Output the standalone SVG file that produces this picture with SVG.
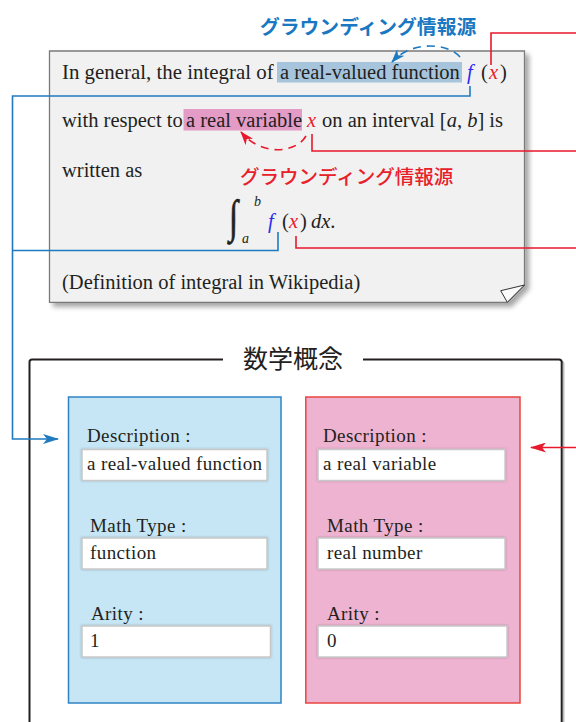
<svg xmlns="http://www.w3.org/2000/svg" width="576" height="722" viewBox="0 0 576 722">
<defs>
<style>
.para{font-family:"Liberation Serif","Times New Roman",serif;font-size:20.5px;fill:#231f20}
.it{font-style:italic}
.fb{fill:#2b2bf0}
.xr{fill:#e8202a}
.lab{font-family:"Liberation Serif","Times New Roman",serif;font-size:19px;letter-spacing:0.4px;fill:#231f20}
.inp{fill:#ffffff;stroke:#c8c8c8;stroke-width:1.5}
.cb{fill:none;stroke:#1f7bc0;stroke-width:1.6}
.cr{fill:none;stroke:#e8192c;stroke-width:1.6}
.jp{font-family:"Noto Sans CJK JP","Noto Sans",sans-serif}
</style>
<marker id="ab" viewBox="0 0 16 10" refX="15" refY="5" markerWidth="16" markerHeight="10" markerUnits="userSpaceOnUse" orient="auto">
<path d="M0,0 L16,5 L0,10 L4,5 Z" fill="#1f7bc0"/>
</marker>
<marker id="ar" viewBox="0 0 16 10" refX="15" refY="5" markerWidth="16" markerHeight="10" markerUnits="userSpaceOnUse" orient="auto">
<path d="M0,0 L16,5 L0,10 L4,5 Z" fill="#e8192c"/>
</marker>
<marker id="abs" viewBox="0 0 14 10" refX="13" refY="5" markerWidth="14" markerHeight="10" markerUnits="userSpaceOnUse" orient="auto">
<path d="M0,0 L14,5 L0,10 L4,5 Z" fill="#1f7bc0"/>
</marker>
<marker id="ars" viewBox="0 0 14 10" refX="13" refY="5" markerWidth="14" markerHeight="10" markerUnits="userSpaceOnUse" orient="auto">
<path d="M0,0 L14,5 L0,10 L4,5 Z" fill="#e8192c"/>
</marker>
<filter id="sh" x="-5%" y="-5%" width="115%" height="115%">
<feDropShadow dx="4" dy="4" stdDeviation="2.5" flood-color="#000" flood-opacity="0.35"/>
</filter>
<filter id="inner" x="-5%" y="-20%" width="110%" height="140%">
<feDropShadow dx="0" dy="0" stdDeviation="1" flood-color="#000" flood-opacity="0.25"/>
</filter>
</defs>

<g id="note">
<path d="M49.5 51 H524.5 V285 L507.3 302.3 H49.5 Z" fill="#f1f1f1" stroke="#7a7a7a" stroke-width="1.3" filter="url(#sh)"/>
<path d="M524.5 285 L500.7 290.7 L507.3 302.3 Z" fill="#fafafa" stroke="#333" stroke-width="1"/>
<rect x="277" y="62" width="185" height="20.5" fill="#a6c5dc"/>
<rect x="183.5" y="109" width="118.5" height="21.5" fill="#e49bc6"/>
<text class="para" x="62" y="79" style="font-size:20.9px">In general, the integral of</text>
<text class="para" x="280" y="79">a real-valued function</text>
<text class="para" y="79"><tspan class="it fb" x="467">f</tspan><tspan x="481">(</tspan><tspan class="it xr" x="489">x</tspan><tspan x="500">)</tspan></text>
<text class="para" x="62" y="127">with respect to</text>
<text class="para" x="186" y="127">a real variable</text>
<text class="para" y="127"><tspan class="it xr" x="307">x</tspan><tspan x="322">on an interval [</tspan><tspan class="it">a</tspan><tspan>, </tspan><tspan class="it">b</tspan><tspan>] is</tspan></text>
<text class="para" x="62" y="177">written as</text>
<text class="para" transform="translate(229,232) scale(1,1.4)" style="font-size:33px" stroke="#231f20" stroke-width="0.5">∫</text>
<text class="para it" x="254" y="206" style="font-size:14px">b</text>
<text class="para it" x="242" y="243" style="font-size:14px">a</text>
<text class="para" y="228"><tspan class="it fb" x="268">f</tspan><tspan x="282">(</tspan><tspan class="it xr" x="289">x</tspan><tspan x="300">)</tspan><tspan class="it" x="311">dx</tspan><tspan>.</tspan></text>
<text class="para" x="62" y="289">(Definition of integral in Wikipedia)</text>
</g>

<g id="label-blue">
<text class="jp" x="260" y="34" style="font-size:19.8px;font-weight:700;fill:#1a78c2">グラウンディング情報源</text>
</g>
<g id="label-red">
<text class="jp" x="240" y="183.5" style="font-size:19.5px;font-weight:500;fill:#e8202a">グラウンディング情報源</text>
</g>

<g id="concept-frame">
<path d="M563.7 722 V364 Q563.7 361.5 561 361.5" fill="none" stroke="#bbb" stroke-width="1.5"/>
<path d="M29.5 722 V362 Q29.5 359.5 32 359.5 H223 M363 359.5 H559 Q561.7 359.5 561.7 362 V722" fill="none" stroke="#231f20" stroke-width="2"/>
<text class="jp" x="243" y="367.5" style="font-size:25px;fill:#231f20">数学概念</text>
</g>

<g id="node-function">
<rect x="68.5" y="397" width="212.5" height="306" fill="#c6e6f5" stroke="#2f83c5" stroke-width="1.5"/>
<text class="lab" x="87" y="442">Description :</text>
<rect class="inp" x="82" y="449.5" width="185" height="31" filter="url(#inner)"/>
<text class="lab" x="87" y="470">a real-valued function</text>
<text class="lab" x="90" y="532">Math Type :</text>
<rect class="inp" x="82" y="538" width="185" height="31" filter="url(#inner)"/>
<text class="lab" x="90" y="558.5">function</text>
<text class="lab" x="91" y="620">Arity :</text>
<rect class="inp" x="82" y="626" width="188.5" height="31" filter="url(#inner)"/>
<text class="lab" x="90" y="647">1</text>
</g>

<g id="node-variable">
<rect x="305.8" y="397" width="214.2" height="306" fill="#eeb3d1" stroke="#e9453f" stroke-width="1.5"/>
<text class="lab" x="323" y="442">Description :</text>
<rect class="inp" x="318" y="449.5" width="187" height="31" filter="url(#inner)"/>
<text class="lab" x="323" y="470">a real variable</text>
<text class="lab" x="327" y="532">Math Type :</text>
<rect class="inp" x="318" y="538" width="187" height="31" filter="url(#inner)"/>
<text class="lab" x="327" y="558.5">real number</text>
<text class="lab" x="327" y="620">Arity :</text>
<rect class="inp" x="318" y="626" width="189" height="31" filter="url(#inner)"/>
<text class="lab" x="327" y="647">0</text>
</g>

<g id="connectors">
<path class="cb" d="M470 86 V96 H12.5 V439 H58" marker-end="url(#ab)"/>
<path class="cb" d="M278 232 V250.5 H12.5"/>
<path class="cr" d="M491 65 V33 H576"/>
<path class="cr" d="M312 134 V151 H576"/>
<path class="cr" d="M296 236 V248 H576"/>
<path class="cr" d="M576 447.5 H531" marker-end="url(#ar)"/>
<path d="M460 57 C448 43 412 40 392 62" fill="none" stroke="#1a78c2" stroke-width="1.6" stroke-dasharray="8 6" marker-end="url(#abs)"/>
<path d="M306 136 C296 153 262 157 241 132" fill="none" stroke="#e8192c" stroke-width="1.6" stroke-dasharray="8 6" marker-end="url(#ars)"/>
</g>
</svg>
